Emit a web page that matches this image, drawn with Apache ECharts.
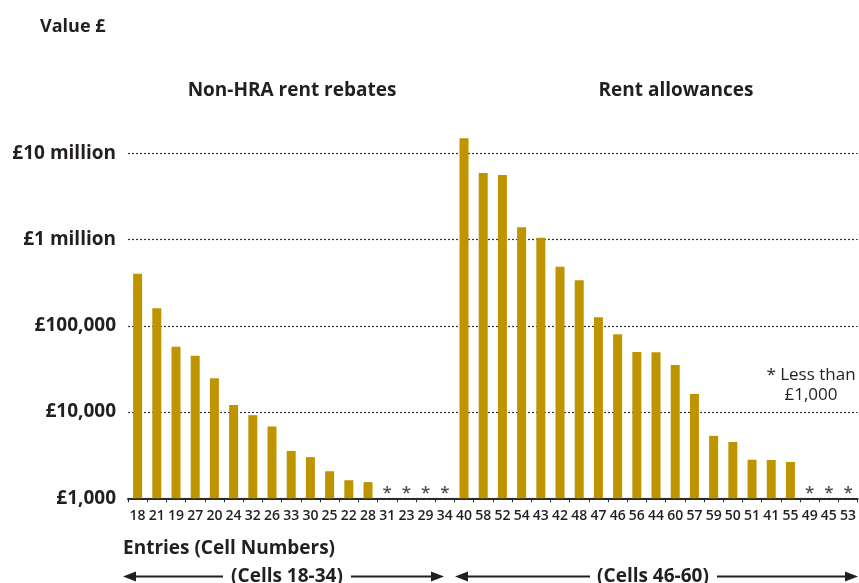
<!DOCTYPE html>
<html>
<head>
<meta charset="utf-8">
<script src="https://cdn.jsdelivr.net/npm/echarts@6/dist/echarts.min.js"></script>
<style>
  html, body { margin: 0; padding: 0; background: #fff; }
  #chart { width: 859px; height: 583px; }
</style>
</head>
<body>
<div id="chart"></div>
<script>
// Entries (cell numbers) in display order: non-HRA rent rebates, then rent allowances
const cells = ['18','21','19','27','20','24','32','26','33','30','25','22','28','31','23','29','34',
               '40','58','52','54','43','42','48','47','46','56','44','60','57','59','50','51','41','55','49','45','53'];

// Value in £; null marks an entry of less than £1,000 (shown with an asterisk)
const values = [400000, 160000, 57000, 45000, 24700, 12100, 9200, 6800, 3540, 3000, 2060, 1620, 1540, null, null, null, null,
                14900000, 5900000, 5600000, 1390000, 1050000, 482000, 338000, 126000, 80000, 49800, 49500, 35000, 16200, 5300, 4500, 2800, 2780, 2640, null, null, null];

// Value axis tick labels
const tickValues = [1000, 10000, 100000, 1000000, 10000000];
const tickLabels = ['£1,000', '£10,000', '£100,000', '£1 million', '£10 million'];

const FONT = '"Open Sans", "Noto Sans", sans-serif';
const INK = '#231f20';
const GOLD = '#be9400';
const AXIS_FLOOR = 1000;

const chart = echarts.init(document.getElementById('chart'), null, { renderer: 'canvas' });

function arrow(x1, x2, y) {
  // horizontal arrow segment with a filled head at x2
  const dir = x2 > x1 ? 1 : -1;
  const headLen = 13, headHalf = 5;
  return [
    { type: 'line', shape: { x1: x1, y1: y, x2: x2 - dir * headLen, y2: y },
      style: { stroke: INK, lineWidth: 2.2 } },
    { type: 'polygon', shape: { points: [[x2, y], [x2 - dir * headLen, y - headHalf], [x2 - dir * headLen, y + headHalf]] },
      style: { fill: INK } }
  ];
}

const option = {
  animation: false,
  backgroundColor: '#fff',
  grid: { left: 128, top: 127.3, width: 734.2, height: 371 },
  xAxis: {
    type: 'category',
    data: cells,
    boundaryGap: true,
    axisLine: { show: true, lineStyle: { color: '#2a2a2a', width: 2 } },
    axisTick: { show: true, length: 4, lineStyle: { color: '#2a2a2a', width: 1 } },
    axisLabel: { interval: 0, margin: 11, color: INK, fontFamily: FONT, fontSize: 14, fontWeight: 600 },
    splitLine: { show: false }
  },
  yAxis: {
    type: 'log',
    logBase: 10,
    min: AXIS_FLOOR,
    max: 20000000,
    axisLine: { show: false },
    axisTick: { show: false },
    axisLabel: {
      margin: 12, color: INK, fontFamily: FONT, fontSize: 19, fontWeight: 700,
      showMaxLabel: false,
      formatter: function (v) {
        const i = tickValues.findIndex(t => Math.abs(t - v) / t < 1e-6);
        return i >= 0 ? tickLabels[i] : '';
      }
    },
    splitLine: { show: true, showMinLine: false, showMaxLine: false, lineStyle: { color: '#333', type: [2, 2], width: 1.2 } }
  },
  series: [
    {
      type: 'bar',
      data: values.map(v => v == null ? '-' : v),
      barWidth: 9,
      itemStyle: { color: GOLD }
    },
    {
      // asterisks for entries below £1,000
      type: 'scatter',
      data: values.map(v => v == null ? AXIS_FLOOR : '-'),
      symbolSize: 0,
      label: {
        show: true, position: 'top', distance: 0, formatter: '*',
        color: INK, fontFamily: FONT, fontSize: 17, fontWeight: 600, offset: [0, 3]
      }
    }
  ],
  graphic: [
    { type: 'text', x: 40, y: 27, style: { text: 'Value £', fill: INK, font: '700 18px ' + FONT, textAlign: 'left', textVerticalAlign: 'middle' } },
    { type: 'text', x: 292, y: 91, style: { text: 'Non-HRA rent rebates', fill: INK, font: '700 19px ' + FONT, textAlign: 'center', textVerticalAlign: 'middle' } },
    { type: 'text', x: 676, y: 91, style: { text: 'Rent allowances', fill: INK, font: '700 19px ' + FONT, textAlign: 'center', textVerticalAlign: 'middle' } },
    { type: 'text', x: 811, y: 375, style: { text: '* Less than', fill: INK, font: '400 17px ' + FONT, textAlign: 'center', textVerticalAlign: 'middle' } },
    { type: 'text', x: 811, y: 395, style: { text: '£1,000', fill: INK, font: '400 17px ' + FONT, textAlign: 'center', textVerticalAlign: 'middle' } },
    { type: 'text', x: 123, y: 549, style: { text: 'Entries (Cell Numbers)', fill: INK, font: '700 19px ' + FONT, textAlign: 'left', textVerticalAlign: 'middle' } },
    { type: 'text', x: 287, y: 577, style: { text: '(Cells 18-34)', fill: INK, font: '700 19px ' + FONT, textAlign: 'center', textVerticalAlign: 'middle' } },
    { type: 'text', x: 653, y: 577, style: { text: '(Cells 46-60)', fill: INK, font: '700 19px ' + FONT, textAlign: 'center', textVerticalAlign: 'middle' } }
  ].concat(arrow(223, 123, 576.5), arrow(351, 444, 576.5), arrow(590, 455, 576.5), arrow(717, 858, 576.5))
};

chart.setOption(option);
</script>
</body>
</html>
